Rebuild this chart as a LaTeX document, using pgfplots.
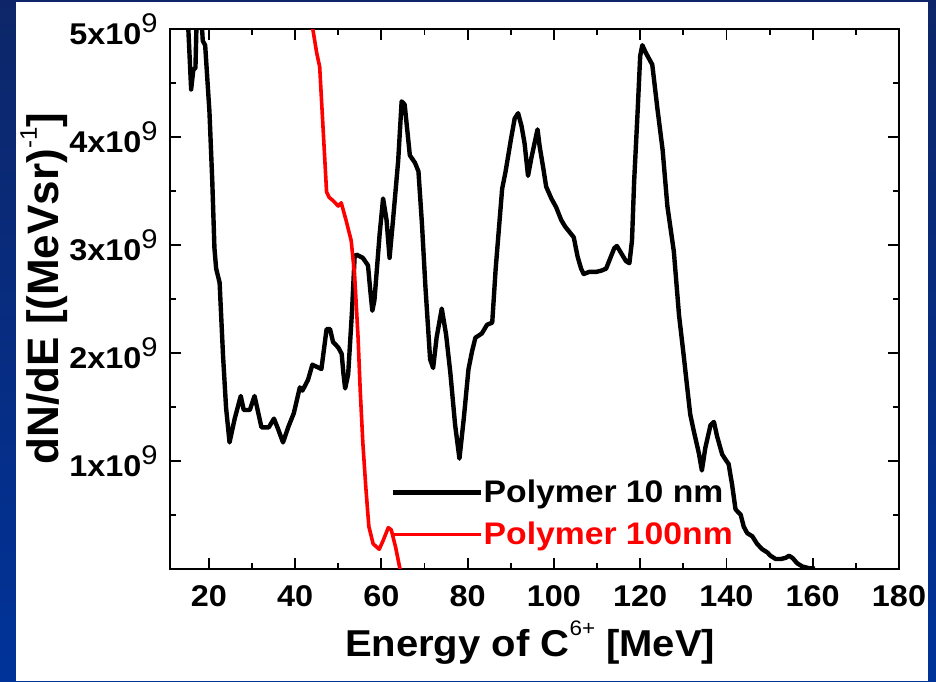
\documentclass[border=0pt]{standalone}
\usepackage{fontspec}
\setmainfont{Liberation Sans}
\newfontfamily\widea{Liberation Sans}[FakeStretch=1.08]
\newfontfamily\wideb{Liberation Sans}[FakeStretch=1.07]
\usepackage{pgfplots}
\pgfplotsset{compat=1.18}
\definecolor{bgtop}{RGB}{14,38,105}
\definecolor{bgbot}{RGB}{0,51,153}
\newcommand{\tsup}[1]{\raisebox{6pt}{\fontsize{13.5}{13}\selectfont\mdseries #1}}
\begin{document}
\begin{tikzpicture}[x=1pt,y=1pt]
\useasboundingbox (0,0) rectangle (468,340.5);
\shade[top color=bgtop,bottom color=bgbot] (0,0) rectangle (468,340.5);
\fill[white] (8,0) rectangle (464,339.5);
\begin{axis}[
  at={(85pt,56.15pt)}, anchor=south west,
  scale only axis, width=364.5pt, height=269.85pt,
  xmin=11, xmax=180, ymin=0, ymax=5,
  xtick={20,40,...,180}, minor xtick={30,50,...,170},
  ytick={1,2,3,4,5},
  yticklabels={1x10\tsup{9},2x10\tsup{9},3x10\tsup{9},4x10\tsup{9},5x10\tsup{9}},
  minor ytick={0.5,1.5,2.5,3.5,4.5},
  tick align=inside, major tick length=5.5pt, minor tick length=3pt,
  axis line style={line width=1pt},
  every tick/.style={black, line width=0.9pt},
  /pgf/number format/assume math mode=true,
  tick label style={font=\widea\fontsize{15}{17}\selectfont\bfseries},
  xticklabel style={anchor=base, yshift=-18.7pt},
  yticklabel style={anchor=east, inner sep=0pt, xshift=-6pt},
  xlabel={Energy of C\raisebox{10.5pt}{\fontsize{10.5}{10}\selectfont\mdseries 6+} [MeV]},
  xlabel style={font=\wideb\fontsize{18.7}{22}\selectfont\bfseries,
    at={(axis description cs:0.494,-0.1618)}, anchor=base},
  ylabel={dN/dE [(MeVsr)\raisebox{11pt}{\fontsize{12}{12}\selectfont\mdseries -1}]},
  ylabel style={font=\fontsize{22}{26}\selectfont\bfseries,
    at={(axis description cs:-0.1523,0.519)}, anchor=base, rotate=0},
  legend cell align=left,
  legend style={at={(axis description cs:0.303,0.166)}, anchor=north west,
    draw=none, fill=none, inner sep=0pt, row sep=8.2pt,
    nodes={inner sep=0pt},
    font=\widea\fontsize{15.6}{18}\selectfont\bfseries},
  legend image code/.code={\draw[#1] (0pt,0pt) -- (40pt,0pt); \path (0pt,0pt) -- (44pt,0pt);},
  clip=true,
]
\addplot[black, line width=2.2pt, line join=round] coordinates {
(14.9,5.3) (15.9,4.44) (16.4,4.62) (16.9,4.64) (17.3,5.3) (18.0,5.3) (18.6,4.89)
(19.15,4.85) (20.15,4.23) (20.8,3.59) (21.3,2.97) (21.7,2.78) (22.5,2.65)
(23.3,1.97) (24.0,1.49) (24.8,1.17) (26.0,1.39) (27.4,1.60) (28.1,1.47)
(29.5,1.47) (30.6,1.60) (32.2,1.31) (33.9,1.31) (35.1,1.39) (36.0,1.30)
(37.2,1.17) (38.4,1.31) (39.7,1.44) (41.1,1.68) (41.7,1.65) (43.0,1.75)
(44.0,1.89) (46.1,1.85) (47.3,2.22) (48.1,2.22) (48.8,2.10) (50.0,2.05)
(50.8,1.99) (51.2,1.81) (51.6,1.67) (52.3,1.80) (53.2,2.39) (53.8,2.89)
(54.2,2.91) (55.7,2.88) (56.9,2.81) (57.4,2.59) (57.9,2.39) (58.4,2.49)
(59.6,3.10) (60.4,3.43) (61.2,3.23) (61.9,2.88) (62.7,3.23) (63.9,3.78)
(64.7,4.33) (65.4,4.30) (66.6,3.83) (67.8,3.76) (68.6,3.68) (69.4,3.20)
(70.2,2.62) (71.3,1.94) (72.0,1.86) (72.8,2.14) (74.0,2.41) (75.0,2.17)
(76.0,1.81) (77.1,1.33) (78.1,1.02) (79.1,1.39) (80.2,1.85) (81.0,2.01)
(81.8,2.14) (83.3,2.18) (84.5,2.26) (85.7,2.28) (86.5,2.78) (88.0,3.52)
(88.8,3.68) (90.0,3.97) (90.9,4.17) (91.7,4.22) (92.5,4.10) (93.2,3.94)
(94.0,3.64) (94.8,3.81) (95.5,3.94) (96.2,4.07) (96.7,3.91) (97.5,3.72)
(98.2,3.54) (99.4,3.43) (100.5,3.35) (101.7,3.23) (102.6,3.17) (103.6,3.12)
(104.6,3.07) (105.5,2.89) (106.3,2.78) (106.9,2.73) (108.2,2.75) (109.8,2.75)
(110.9,2.76) (112.1,2.78) (113.1,2.88) (114.0,2.97) (114.6,2.99) (115.5,2.93)
(116.7,2.85) (117.5,2.83) (118.1,3.04) (118.6,3.59) (119.4,4.23) (120.0,4.75)
(120.5,4.85) (121.3,4.78) (122.8,4.67) (124.0,4.26) (125.2,3.88) (126.3,3.36)
(127.8,2.94) (129.0,2.35) (130.1,1.97) (130.9,1.68) (131.6,1.43) (132.4,1.28)
(133.6,1.07) (134.3,0.91) (135.1,1.12) (136.3,1.33) (137.1,1.36) (137.8,1.23)
(139.0,1.06) (139.8,1.01) (140.5,0.97) (141.3,0.78) (142.1,0.55) (143.3,0.50)
(144.0,0.39) (144.8,0.33) (146.0,0.30) (147.1,0.23) (148.3,0.18) (149.5,0.15)
(150.2,0.12) (151.4,0.09) (152.6,0.09) (153.7,0.10) (154.5,0.12) (155.3,0.10)
(156.4,0.05) (157.6,0.02) (159.1,0.005) (160.5,0.0)
};
\addlegendentry{Polymer 10 nm}
\addplot[red, line width=1.8pt, line join=round] coordinates {
(43.7,5.1) (45.0,4.78) (45.7,4.65) (46.5,4.07) (47.3,3.49) (47.9,3.44)
(48.8,3.41) (50.0,3.36) (50.7,3.39) (51.8,3.23) (53.0,3.04) (53.8,2.72)
(54.6,2.14) (55.1,1.65) (55.7,1.17) (56.4,0.75) (57.1,0.39) (58.1,0.23)
(59.5,0.18) (60.4,0.26) (61.6,0.38) (62.3,0.36) (63.3,0.20) (64.3,0.0) (64.7,-0.13)
};
\addlegendentry{\textcolor{red}{Polymer 100nm}}
\end{axis}
\end{tikzpicture}
\end{document}
